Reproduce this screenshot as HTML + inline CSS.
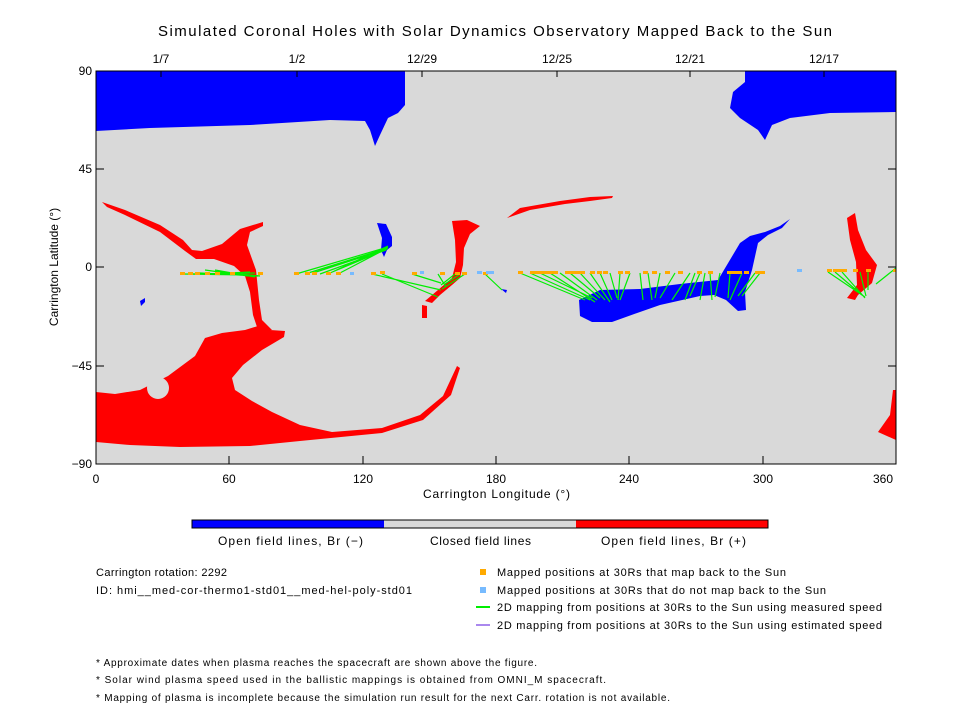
<!DOCTYPE html>
<html><head><meta charset="utf-8"><style>
body{margin:0;background:#fff;width:960px;height:720px;overflow:hidden;font-family:"Liberation Sans",sans-serif;}
</style></head><body>
<svg width="960" height="720" xmlns="http://www.w3.org/2000/svg" font-family="Liberation Sans, sans-serif">
<rect width="960" height="720" fill="#fff"/>
<text x="158" y="36" font-size="15" textLength="674" lengthAdjust="spacing">Simulated Coronal Holes with Solar Dynamics Observatory Mapped Back to the Sun</text>
<g font-size="12" text-anchor="middle">
<text x="161" y="63">1/7</text><text x="297" y="63">1/2</text><text x="422" y="63">12/29</text><text x="557" y="63">12/25</text><text x="690" y="63">12/21</text><text x="824" y="63">12/17</text>
</g>
<rect x="96" y="71" width="800" height="393" fill="#d9d9d9"/>
<path d="M96,71 L405,71 L405,105 L398,113 L388,118 L380,135 L375,146 L370,130 L365,121 L330,120 L250,125 L150,128 L96,131Z" fill="#0000ff"/>
<path d="M745,71 L896,71 L896,112 L830,113 L790,118 L772,125 L765,140 L758,130 L740,118 L730,108 L733,92 L745,82Z" fill="#0000ff"/>
<path d="M377,223 L386,224 L392,237 L392,246 L387,250 L384,257 L381,250 L382,238Z" fill="#0000ff"/>
<path d="M140,301 L145,298 L145,302 L141,306Z" fill="#0000ff"/>
<path d="M501,289 L507,290 L506,293Z" fill="#0000ff"/>
<path d="M579,300 L600,290 L640,289 L680,284 L718,280 L740,243 L750,236 L765,232 L780,226 L790,219 L782,228 L768,235 L758,243 L752,270 L745,292 L746,310 L738,311 L726,300 L714,295 L700,296 L660,305 L640,312 L612,322 L592,322 L580,316Z" fill="#0000ff"/>
<path d="M102,202 L125,210 L160,225 L183,240 L192,250 L202,251 L222,244 L240,229 L263,222 L263,226 L250,232 L247,245 L256,270 L259,300 L262,320 L272,330 L258,330 L253,315 L250,292 L245,276 L234,266 L214,259 L196,259 L185,251 L160,232 L125,215 L107,207Z" fill="#ff0000"/>
<path d="M96,392 L115,394 L140,390 L168,376 L195,356 L205,338 L222,333 L245,330 L258,326 L270,330 L285,331 L284,337 L262,350 L243,365 L232,378 L235,390 L252,401 L272,412 L300,425 L332,432 L382,428 L420,415 L443,396 L457,366 L460,368 L451,395 L423,420 L382,433 L300,441 L250,446 L180,447 L130,445 L96,442Z" fill="#ff0000"/>
<circle cx="158" cy="388" r="11" fill="#d9d9d9"/>
<path d="M452,221 L467,220 L480,226 L470,234 L464,248 L463,265 L460,278 L452,285 L440,295 L432,303 L425,301 L438,290 L452,278 L456,262 L455,240Z" fill="#ff0000"/>
<path d="M422,305 L427,306 L427,318 L422,318Z" fill="#ff0000"/>
<path d="M507,218 L520,208 L560,201 L590,197 L613,196 L612,198 L590,201 L565,204 L530,210 L510,217Z" fill="#ff0000"/>
<path d="M847,218 L855,213 L858,230 L866,250 L877,265 L872,283 L858,295 L855,300 L847,298 L857,285 L856,262 L850,240Z" fill="#ff0000"/>
<path d="M893,390 L896,390 L896,440 L878,432 L890,415Z" fill="#ff0000"/>
<path d="M120,440 L175,437 L175,440 L120,443Z" fill="#ff0000"/>
<g stroke="#00ee00" stroke-width="1.2">
<path d="M183,274 L250,275 M190,274 L255,273 M200,273 L258,276 M210,274 L250,272 M220,272 L260,276 M205,270 L248,276 M215,270 L255,277"/>
<path d="M296,274 L388,247 M305,274 L388,248 M313,273 L387,249 M320,274 L386,250 M330,273 L385,250 M338,274 L384,250 M328,274 L388,246"/>
<path d="M372,274 L441,290 M382,274 L438,297 M412,274 L441,283 M438,274 L446,287 M455,274 L441,285 M460,274 L445,284 M465,274 L442,289"/>
<path d="M485,274 L502,290"/>
<path d="M520,273 L585,300 M530,273 L590,300 M540,273 L592,298 M550,273 L595,302 M560,273 L597,300 M570,273 L600,298 M580,273 L605,300 M590,273 L610,302 M600,273 L612,300 M610,273 L617,298 M620,273 L618,300 M630,273 L620,300 M640,273 L643,300 M648,273 L652,300 M660,273 L655,298 M675,273 L660,298 M690,273 L672,300 M705,273 L700,300 M710,273 L712,300 M720,273 L715,297 M730,273 L728,298 M742,273 L730,300 M755,273 L738,296 M760,273 L742,296 M700,273 L690,296 M695,273 L685,300"/>
<path d="M828,272 L865,297 M835,272 L862,295 M842,272 L865,298 M860,272 L866,296 M868,272 L868,290 M896,268 L876,284"/>
</g>
<g fill="#ffaa00">
<path d="M180,272h5v3h-5zM188,272h5v3h-5zM195,272h5v3h-5zM205,272h5v3h-5zM215,272h5v3h-5zM230,272h5v3h-5zM258,272h5v3h-5zM294,272h5v3h-5zM305,272h5v3h-5zM312,272h5v3h-5zM326,272h5v3h-5zM336,272h5v3h-5zM371,272h5v3h-5zM380,271h5v3h-5zM412,272h5v3h-5zM440,272h5v3h-5zM455,272h5v3h-5zM462,272h5v3h-5zM483,272h5v3h-5z"/>
<path d="M518,271h5v3h-5zM530,271h28v3h-28zM565,271h20v3h-20zM590,271h5v3h-5zM597,271h5v3h-5zM603,271h5v3h-5zM618,271h5v3h-5zM625,271h5v3h-5zM643,271h5v3h-5zM652,271h5v3h-5zM665,271h5v3h-5zM678,271h5v3h-5zM697,271h5v3h-5zM708,271h5v3h-5zM727,271h15v3h-15zM744,271h5v3h-5zM755,271h10v3h-10zM827,269h5v3h-5zM833,269h10v3h-10zM842,269h5v3h-5zM853,269h5v3h-5zM866,269h5v3h-5zM893,269h3v3h-3z"/>
</g>
<g fill="#77bbff"><path d="M350,272h4v3h-4zM420,271h4v3h-4zM477,271h5v3h-5zM486,271h8v3h-8zM797,269h5v3h-5z"/></g>
<rect x="96" y="71" width="800" height="393" fill="none" stroke="#000" stroke-width="1"/>
<g stroke="#000">
<path d="M96,464v-8M229,464v-8M363,464v-8M496,464v-8M629,464v-8M763,464v-8M896,464v-8M96,71h8M96,169h8M96,267h8M96,366h8M96,464h8M896,169h-8M896,267h-8M896,366h-8M161,71v6M297,71v6M422,71v6M557,71v6M690,71v6M824,71v6"/>
</g>
<g font-size="12" text-anchor="middle">
<text x="96" y="483">0</text><text x="229" y="483">60</text><text x="363" y="483">120</text><text x="496" y="483">180</text><text x="629" y="483">240</text><text x="763" y="483">300</text><text x="883" y="483">360</text>
</g>
<text x="423" y="498" font-size="12" textLength="147" lengthAdjust="spacing">Carrington Longitude (°)</text>
<g font-size="12" text-anchor="end">
<text x="92" y="75">90</text><text x="92" y="173">45</text><text x="92" y="271">0</text><text x="92" y="370">−45</text><text x="92" y="468">−90</text>
</g>
<text x="58" y="267" font-size="12" text-anchor="middle" transform="rotate(-90 58 267)">Carrington Latitude (°)</text>
<rect x="192" y="520" width="192" height="8" fill="#0000ff"/><rect x="384" y="520" width="192" height="8" fill="#d9d9d9"/><rect x="576" y="520" width="192" height="8" fill="#ff0000"/>
<rect x="192" y="520" width="576" height="8" fill="none" stroke="#000"/>
<g font-size="12"><text x="218" y="545" textLength="145" lengthAdjust="spacing">Open field lines, Br (−)</text><text x="430" y="545" textLength="101" lengthAdjust="spacing">Closed field lines</text><text x="601" y="545" textLength="145" lengthAdjust="spacing">Open field lines, Br (+)</text></g>
<g font-size="11"><text x="96" y="576" textLength="131" lengthAdjust="spacing">Carrington rotation: 2292</text><text x="96" y="594" textLength="316" lengthAdjust="spacing">ID: hmi__med-cor-thermo1-std01__med-hel-poly-std01</text>
<rect x="480" y="569" width="6" height="6" fill="#ffaa00"/><text x="497" y="576" textLength="289" lengthAdjust="spacing">Mapped positions at 30Rs that map back to the Sun</text>
<rect x="480" y="587" width="6" height="6" fill="#77bbff"/><text x="497" y="594" textLength="329" lengthAdjust="spacing">Mapped positions at 30Rs that do not map back to the Sun</text>
<rect x="476" y="606" width="14" height="2" fill="#00ee00"/><text x="497" y="611" textLength="385" lengthAdjust="spacing">2D mapping from positions at 30Rs to the Sun using measured speed</text>
<rect x="476" y="624" width="14" height="2" fill="#aa88ee"/><text x="497" y="629" textLength="385" lengthAdjust="spacing">2D mapping from positions at 30Rs to the Sun using estimated speed</text>
</g>
<g font-size="10"><text x="96" y="666" textLength="441" lengthAdjust="spacing">* Approximate dates when plasma reaches the spacecraft are shown above the figure.</text>
<text x="96" y="683" textLength="510" lengthAdjust="spacing">* Solar wind plasma speed used in the ballistic mappings is obtained from OMNI_M spacecraft.</text>
<text x="96" y="701" textLength="574" lengthAdjust="spacing">* Mapping of plasma is incomplete because the simulation run result for the next Carr. rotation is not available.</text></g>
</svg>
</body></html>
